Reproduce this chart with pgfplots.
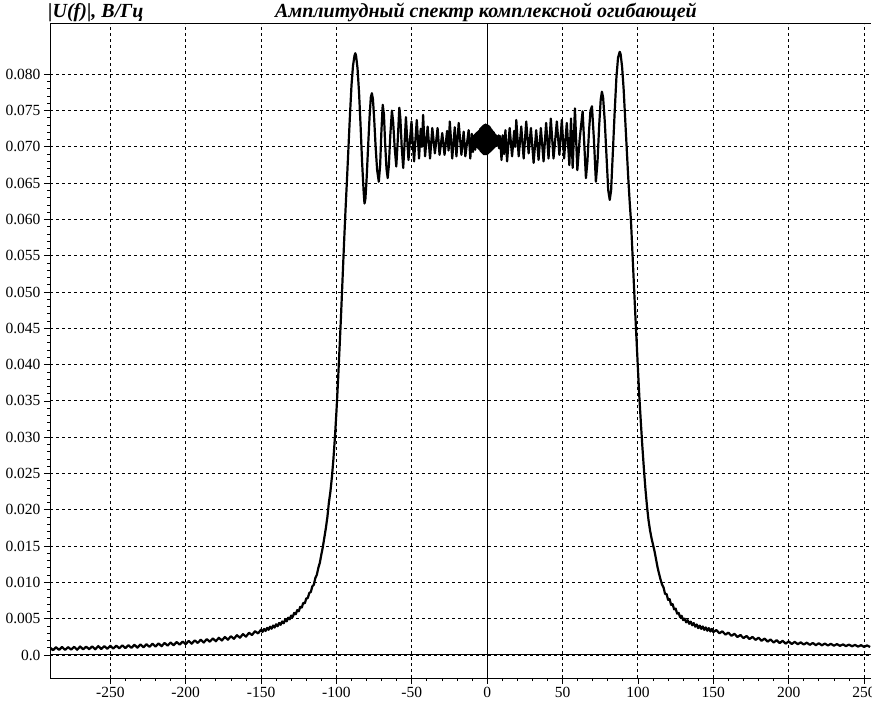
\documentclass[border=0pt]{standalone}
\usepackage{pgfplots}
\pgfplotsset{compat=1.18}
\usepackage{fontspec}
\setmainfont{Liberation Serif}
\begin{document}
\begin{tikzpicture}[x=1pt,y=1pt]
\path[use as bounding box] (0,0) rectangle (896,716);
\begin{axis}[
  at={(50pt,38pt)}, anchor=south west,
  scale only axis, width=821pt, height=654pt,
  xmin=-290, xmax=254.6, ymin=-0.00317, ymax=0.08693,
  axis x line*=bottom, axis y line*=left,
  axis line style={-, line width=1pt},
  xtick={-250,-200,-150,-100,-50,0,50,100,150,200,250},
  xticklabels={-250,-200,-150,-100,-50,0,50,100,150,200,250},
  ytick={0,0.005,0.010,0.015,0.020,0.025,0.030,0.035,0.040,0.045,0.050,0.055,0.060,0.065,0.070,0.075,0.080},
  yticklabels={0.0,0.005,0.010,0.015,0.020,0.025,0.030,0.035,0.040,0.045,0.050,0.055,0.060,0.065,0.070,0.075,0.080},
  scaled y ticks=false,
  minor x tick num=4, minor y tick num=4,
  grid=major,
  major grid style={black, line width=0.9pt, dash pattern=on 3pt off 3pt},
  tick align=outside, major tick length=6pt, minor tick length=3pt,
  every tick/.style={black, line width=0.8pt},
  ticklabel style={font=\fontsize{15.5}{15.5}\selectfont},
  clip=true,
]
\draw[line width=1pt] (axis cs:-290,0) -- (axis cs:254.6,0);
\draw[line width=1pt] (axis cs:0,-0.00317) -- (axis cs:0,0.08693);
\draw[line width=1pt] (rel axis cs:0,1) -- (rel axis cs:1,1);
\addplot[black, line width=2.2pt, line join=round] table[row sep=newline] {
x y
-290 .00105
-288 .00066
-286 .00107
-284 .00070
-282 .00111
-280 .00070
-278 .00109
-276 .00074
-274 .00113
-272 .00072
-270 .00117
-268 .00078
-266 .00115
-264 .00080
-262 .00119
-260 .00078
-258 .00123
-256 .00083
-254 .00122
-252 .00086
-250 .00127
-248 .00089
-246 .00128
-244 .00092
-242 .00133
-240 .00095
-238 .00135
-236 .00099
-234 .00141
-232 .00101
-230 .00145
-228 .00107
-226 .00148
-224 .00112
-222 .00155
-220 .00117
-218 .00160
-216 .00121
-214 .00166
-212 .00129
-210 .00172
-208 .00134
-206 .00179
-204 .00143
-202 .00185
-200 .00150
-198 .00194
-196 .00156
-194 .00202
-192 .00166
-190 .00210
-188 .00172
-186 .00219
-184 .00183
-182 .00228
-180 .00190
-178 .00237
-176 .00200
-174 .00248
-172 .00211
-170 .00258
-168 .00223
-166 .00273
-164 .00238
-162 .00288
-160 .00253
-158 .00306
-156 .00275
-154 .00328
-152 .00297
-150 .00350
-149 .00318
-148 .00360
-147 .00331
-146 .00374
-145 .00347
-144 .00390
-143 .00362
-142 .00406
-141 .00378
-140 .00423
-139 .00396
-138 .00442
-137 .00416
-136 .00462
-135 .00437
-134 .00486
-133 .00464
-132 .00514
-131 .00492
-130 .00543
-129 .00525
-128 .00580
-127 .00562
-126 .00618
-125 .00602
-124 .00664
-123 .00654
-122 .00718
-121 .00712
-120 .00778
-119 .00785
-118 .00855
-117 .00868
-116 .00945
-115 .00968
-114 .01060
-113 .01105
-112 .01200
-111 .01272
-110 .01385
-109 .0149
-108 .0162
-107 .0175
-106 .0190
-105 .0210
-104 .0225
-103 .0245
-102 .0270
-101 .0300
-100 .0335
-99 .0375
-98 .0420
-97 .0465
-96 .0515
-95 .0565
-94 .0612
-93 .0655
-92 .0700
-91 .0745
-90 .0785
-89 .0812
-88 .0826
-87.5 .0829
-87 .0826
-86 .0808
-85 .0775
-84 .0730
-83 .0680
-82 .0640
-81.4 .0622
-80.8 .0628
-80 .0655
-79 .0700
-78 .0742
-77.2 .0768
-76.5 .0774
-75.8 .0766
-75 .0740
-74 .0700
-73 .0668
-71.9 .0652
-71 .0675
-70.2 .0720
-69.3 .0758
-68.5 .0745
-67.7 .0705
-66.8 .0670
-66 .0657
-65.2 .0675
-64.3 .0715
-63.2 .0750
-62.4 .0735
-61.4 .0700
-60.3 .0673
-59.3 .0710
-58.3 .0754
-57.6 .0740
-56.7 .0700
-55.7 .0671
-54.8 .0705
-53.9 .0741
-53.1 .0712
-52.2 .0682
-51.2 .0710
-50.2 .0735
-49.4 .0706
-48.5 .0680
-47.6 .0710
-46.7 .0737
-45.2 .0684
-44.1 .0725
-43.3 .0700
-42.5 .0744
-41.2 .0687
-39.5 .0728
-37.9 .0684
-36.4 .0726
-34.7 .0691
-32.9 .0726
-31.6 .0689
-29.8 .0719
-28.3 .0689
-26.6 .0722
-25.6 .0695
-24.8 .0735
-23.2 .0684
-21.5 .0727
-20.4 .0687
-18.9 .0733
-17.1 .0689
-15.6 .0721
-14.5 .0687
-12.3 .0723
-11.2 .0684
-10.2 .0718
-9.4 .0693
-8.6 .0716
-7.9 .0696
-7.6 .0718
-7.35 .0701
-7.1 .0719
-6.85 .0700
-6.6 .0720
-6.35 .0699
-6.1 .0721
-5.85 .0698
-5.6 .0722
-5.35 .0697
-5.1 .0723
-4.85 .0696
-4.6 .0725
-4.35 .0694
-4.1 .0726
-3.85 .0693
-3.6 .0727
-3.35 .0692
-3.1 .0728
-2.85 .0691
-2.6 .0729
-2.35 .0690
-2.1 .0730
-1.85 .0690
-1.6 .0730
-1.35 .0690
-1.1 .0731
-0.85 .0690
-0.6 .0730
-0.35 .0690
-0.1 .0730
0.15 .0691
0.4 .0729
0.65 .0691
0.9 .0729
1.15 .0692
1.4 .0728
1.65 .0693
1.9 .0727
2.15 .0694
2.4 .0725
2.65 .0695
2.9 .0724
3.15 .0696
3.4 .0722
3.65 .0697
3.9 .0721
4.15 .0698
4.4 .0720
4.65 .0699
4.9 .0718
5.15 .0700
5.4 .0717
5.65 .0701
5.9 .0716
6.15 .0702
6.4 .0715
6.7 .0703
7.0 .0714
7.3 .0701
7.6 .0716
7.9 .0698
8.5 .0715
9.5 .0682
10.3 .0716
11.2 .0690
12.1 .0723
13.2 .0680
14.9 .0726
16.5 .0687
17.9 .0722
18.6 .0700
19.3 .0737
20.9 .0687
22.6 .0728
24.2 .0684
25.9 .0735
27.5 .0691
29.0 .0726
30.8 .0678
32.5 .0723
34.1 .0682
35.6 .0726
37.4 .0680
39.1 .0733
40.7 .0684
42.2 .0739
44.0 .0684
46.2 .0735
47.9 .0689
49.5 .0737
51.0 .0684
52.8 .0733
54.5 .0675
55.6 .0739
56.7 .0671
58.2 .0753
59.8 .0668
61.4 .0712
63.3 .0749
64.5 .0700
65.5 .0657
66.5 .0680
67.5 .0720
68.5 .0750
69.5 .0756
70.8 .0710
72.1 .0652
73.2 .0680
74.3 .0730
75.3 .0765
76.1 .0776
76.9 .0768
78 .0735
79.2 .0685
80.3 .0640
81.3 .0627
82.2 .0640
83.3 .0690
84.5 .0745
85.7 .0795
86.8 .0823
87.9 .0831
88.5 .0828
89.5 .0810
90.5 .0780
91.5 .0740
92.5 .0700
93.5 .0660
94.5 .0625
95.4 .0597
96 .0570
97 .0525
98 .0480
99 .0437
100 .0394
101 .0353
102 .0318
103 .0285
104 .0255
105 .0228
106 .0205
107 .0186
108 .0172
109 .0161
110 .0152
111 .0143
112 .0132
113 .0121
114 .0112
115 .0104
116 .0097
117 .00930
118 .00840
119 .00840
120 .00760
121 .00770
122 .00690
123 .00700
124 .00630
125 .00640
126 .00570
127 .00580
128 .00520
129 .00540
130 .00480
131 .00500
132 .00450
133 .00480
134 .00430
135 .00460
136 .00410
137 .00440
138 .00390
139 .00420
140 .00370
141 .00405
142 .00360
143 .00393
144 .00346
145 .00380
146 .00335
147 .00370
148 .00325
149 .00360
150 .00315
152 .00344
154 .00299
156 .00326
158 .00281
160 .00308
162 .00264
164 .00292
166 .00248
168 .00276
170 .00232
172 .00262
174 .00220
176 .00250
178 .00208
180 .00238
182 .00196
184 .00226
186 .00184
188 .00214
190 .00172
192 .00204
194 .00164
196 .00196
198 .00156
200 .00188
202 .00151
204 .00181
206 .00149
208 .00174
210 .00144
212 .00170
214 .00140
216 .00166
218 .00136
220 .00162
222 .00133
224 .00158
226 .00131
228 .00154
230 .00128
232 .00150
234 .00126
236 .00146
238 .00123
240 .00143
242 .00120
244 .00139
246 .00116
248 .00135
250 .00112
252 .00132
254 .00110
};
\end{axis}
\fill[white] (871.5,0) rectangle (896,36);
\node[anchor=base west, inner sep=0pt, font=\fontsize{20}{20}\selectfont\bfseries\itshape] at (48,698) {|U(f)|, В/Гц};
\node[anchor=base, inner sep=0pt, font=\fontsize{20}{20}\selectfont\bfseries\itshape] at (486,698) {Амплитудный спектр комплексной огибающей};
\end{tikzpicture}
\end{document}
